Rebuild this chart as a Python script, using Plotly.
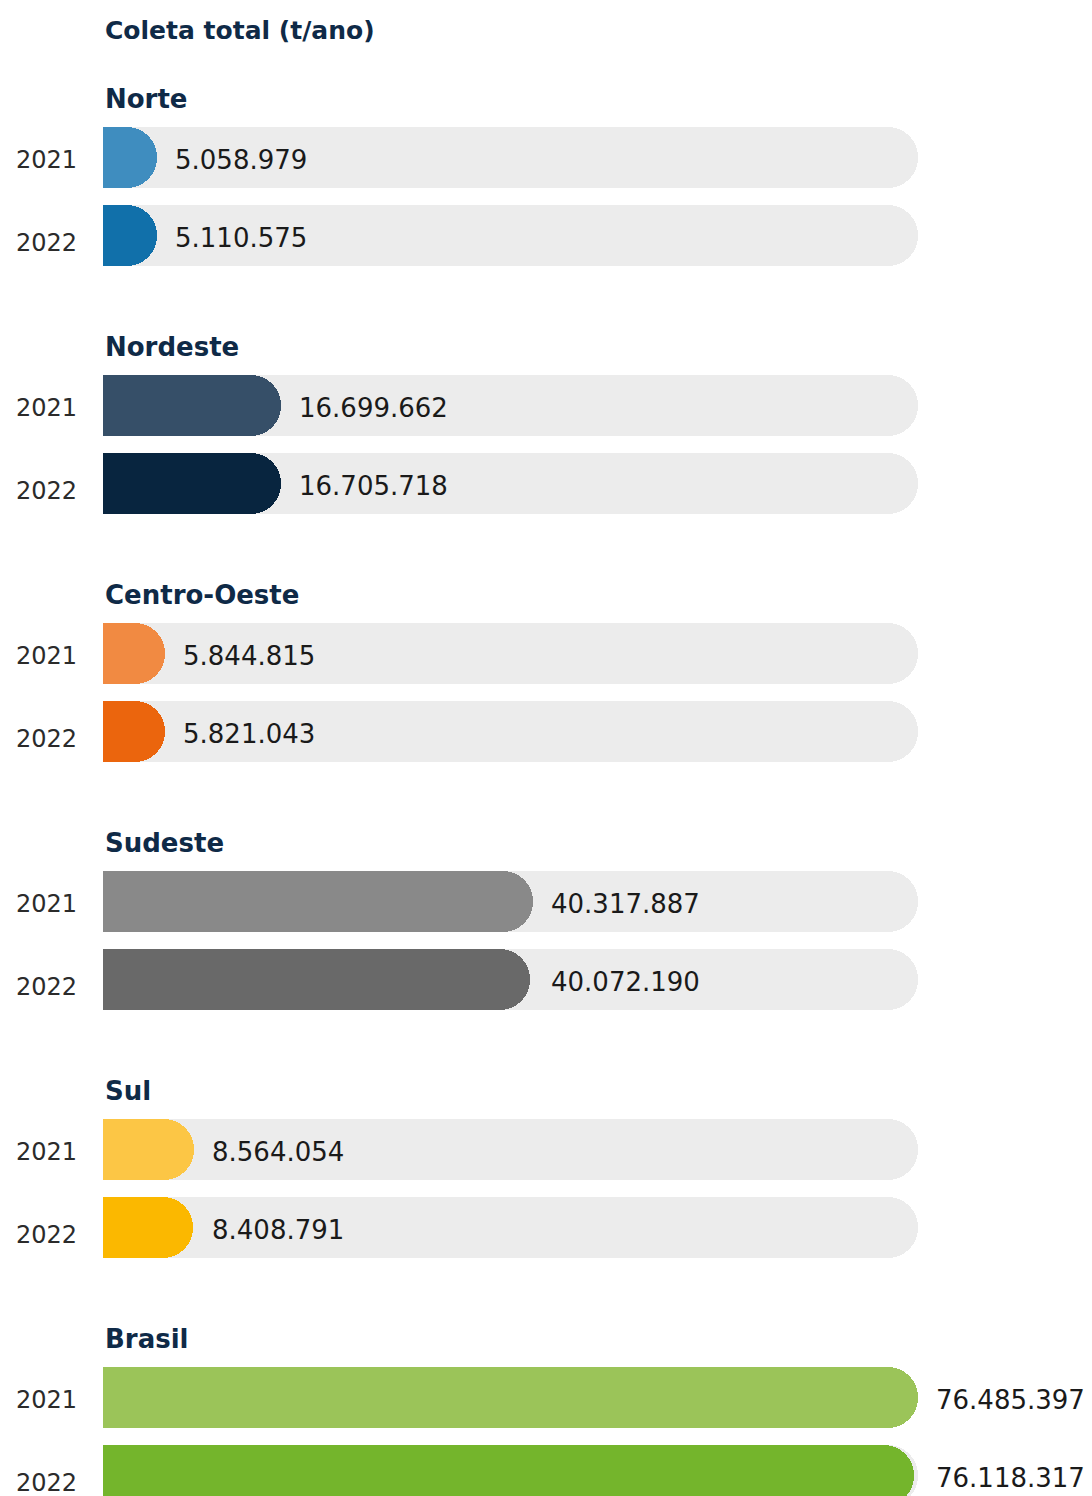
import plotly.graph_objects as go

# ---- data ----
regions = ["Norte", "Nordeste", "Centro-Oeste", "Sudeste", "Sul", "Brasil"]
years = ["2021", "2022"]
values_2021 = [5058979, 16699662, 5844815, 40317887, 8564054, 76485397]
values_2022 = [5110575, 16705718, 5821043, 40072190, 8408791, 76118317]
title_text = "Coleta total (t/ano)"

# ---- styles ----
colors_2021 = ["#3f8dbf", "#364f68", "#f18a42", "#898989", "#fcc645", "#9bc459"]
colors_2022 = ["#1170aa", "#08253f", "#eb650d", "#696969", "#fbb800", "#74b52c"]
track_color = "#ececec"
head_color = "#0f2a47"
value_color = "#1a1a1a"
year_color = "#2b2b2b"
FONT = "DejaVu Sans"

W, H = 1092, 1496
LEFT, PLOT_RIGHT = 103, 918
GROUP0, GROUP_STEP, PAIR_STEP = 157, 248, 78
BAR_W = 61
RADIUS = 30

def fmt(v):
    return f"{v:,}".replace(",", ".")

ys, vals, cols = [], [], []
for i, r in enumerate(regions):
    y1 = GROUP0 + GROUP_STEP * i
    y2 = y1 + PAIR_STEP
    ys += [y1, y2]
    vals += [values_2021[i], values_2022[i]]
    cols += [colors_2021[i], colors_2022[i]]

vmax = max(vals)

fig = go.Figure()
# background track (base x axis)
fig.add_trace(go.Bar(
    y=ys, x=[vmax] * len(ys), orientation="h", width=BAR_W, xaxis="x",
    marker=dict(color=track_color, line=dict(width=0), cornerradius=RADIUS),
    hoverinfo="skip", showlegend=False,
))
# data bars on an overlaid x axis (drawn on top, rounded independently)
fig.add_trace(go.Bar(
    y=ys, x=vals, orientation="h", width=BAR_W, xaxis="x2",
    marker=dict(color=cols, line=dict(width=0), cornerradius=RADIUS),
    hovertemplate="%{x:,}<extra></extra>", showlegend=False,
))

ann = []
ann.append(dict(x=0, y=30, xref="x", yref="y", text=f"<b>{title_text}</b>",
                xanchor="left", yanchor="middle", showarrow=False,
                font=dict(family=FONT, size=25, color=head_color)))
for i, r in enumerate(regions):
    y1 = GROUP0 + GROUP_STEP * i
    y2 = y1 + PAIR_STEP
    ann.append(dict(x=0, y=y1 - 58, xref="x", yref="y", text=f"<b>{r}</b>",
                    xanchor="left", yanchor="middle", showarrow=False,
                    font=dict(family=FONT, size=26, color=head_color)))
    gmax = max(values_2021[i], values_2022[i])
    for y, v, yr, ysh in [(y1, values_2021[i], years[0], -3), (y2, values_2022[i], years[1], -8)]:
        ann.append(dict(x=0, y=y, xref="x", yref="y", text=yr, xanchor="right",
                        yanchor="middle", showarrow=False, xshift=-24, yshift=ysh,
                        font=dict(family=FONT, size=24, color=year_color)))
        ann.append(dict(x=gmax, y=y, xref="x", yref="y", text=fmt(v), xanchor="left",
                        yanchor="middle", showarrow=False, xshift=16, yshift=-3,
                        font=dict(family=FONT, size=26, color=value_color)))

fig.update_layout(
    width=W, height=H,
    margin=dict(l=LEFT, r=W - PLOT_RIGHT, t=0, b=0, pad=0),
    barmode="overlay",
    plot_bgcolor="white", paper_bgcolor="white",
    xaxis=dict(range=[0, vmax], visible=False, fixedrange=True),
    xaxis2=dict(range=[0, vmax], visible=False, fixedrange=True, overlaying="x"),
    yaxis=dict(range=[H, 0], visible=False, fixedrange=True),
    annotations=ann,
    bargap=0,
)

fig.write_html("out.html", config={"displayModeBar": False},
               post_script="document.body.style.margin='0';")
